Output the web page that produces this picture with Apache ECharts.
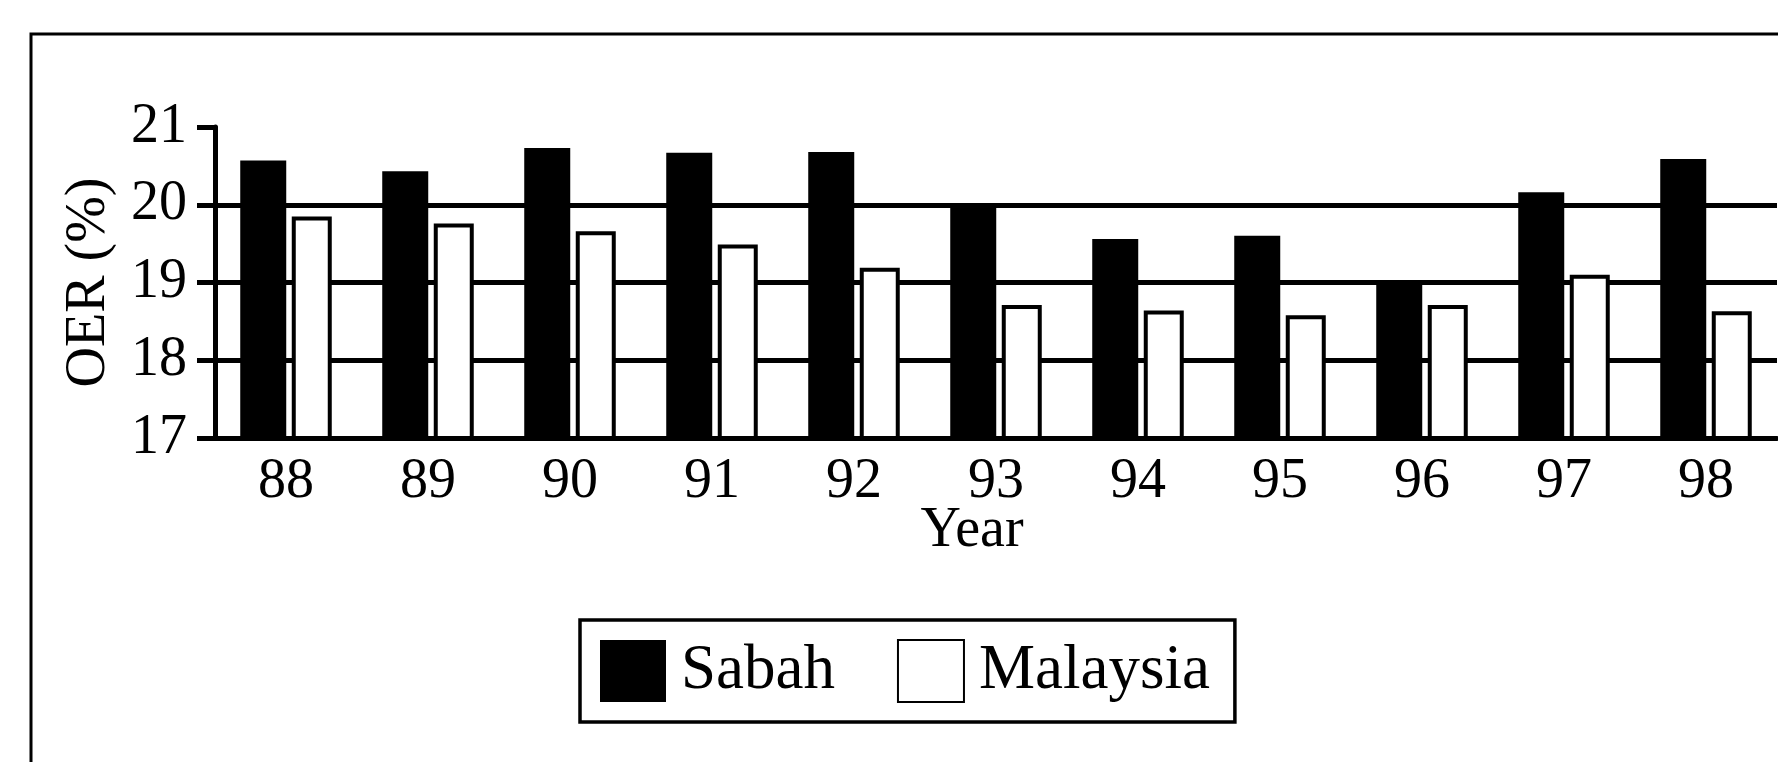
<!DOCTYPE html>
<html>
<head>
<meta charset="utf-8">
<script src="https://cdn.jsdelivr.net/npm/echarts@6/dist/echarts.min.js"></script>
<style>
html,body{margin:0;padding:0;background:#fff;}
#c{width:1778px;height:762px;}
</style>
</head>
<body>
<div id="c"></div>
<script>
const years = ['88','89','90','91','92','93','94','95','96','97','98'];
const sabah = [20.57, 20.43, 20.73, 20.67, 20.68, 20.00, 19.56, 19.60, 18.97, 20.16, 20.59];
const malaysia = [19.85, 19.76, 19.66, 19.49, 19.19, 18.71, 18.64, 18.58, 18.71, 19.10, 18.63];
const yTicks = { min: 17, max: 21, step: 1 };
const seriesNames = ['Sabah', 'Malaysia'];

const FONT = 'Liberation Serif';
const chart = echarts.init(document.getElementById('c'));
chart.setOption({
  animation: false,
  backgroundColor: '#fff',
  graphic: [{
    type: 'rect', z: -10, silent: true,
    shape: { x: 31, y: 34, width: 1800, height: 800 },
    style: { fill: null, stroke: '#000', lineWidth: 3 }
  }],
  grid: { left: 215, right: 1, top: 127, bottom: 324 },
  legend: {
    data: seriesNames,
    left: 580, top: 620,
    padding: [19, 25, 19, 20],
    borderColor: '#000', borderWidth: 3.5, borderRadius: 0,
    itemWidth: 66, itemHeight: 62, itemGap: 62,
    icon: 'rect',
    textStyle: { fontFamily: FONT, fontSize: 63, color: '#000', padding: [0, 0, 0, 10] },
    selectedMode: false
  },
  xAxis: {
    type: 'category',
    data: years,
    name: 'Year',
    nameLocation: 'middle',
    nameGap: 65,
    nameMoveOverlap: false,
    nameTextStyle: { fontFamily: FONT, fontSize: 56, color: '#000', padding: [0, 48, 0, 0] },
    axisLine: { lineStyle: { color: '#000', width: 5 } },
    axisTick: { show: false },
    axisLabel: { interval: 0, margin: 16, fontFamily: FONT, fontSize: 56, color: '#000' },
    splitLine: { show: false }
  },
  yAxis: {
    type: 'value',
    min: yTicks.min, max: yTicks.max, interval: yTicks.step,
    name: 'OER (%)',
    nameLocation: 'middle',
    nameGap: 98,
    nameRotate: 90,
    nameMoveOverlap: false,
    nameTextStyle: { fontFamily: FONT, fontSize: 56, color: '#000' },
    axisLine: { show: true, lineStyle: { color: '#000', width: 5 } },
    axisTick: { show: true, inside: false, length: 18, lineStyle: { color: '#000', width: 5 } },
    axisLabel: { margin: 28, fontFamily: FONT, fontSize: 56, color: '#000' },
    splitLine: { show: true, showMinLine: false, showMaxLine: false, lineStyle: { color: '#000', width: 5 } }
  },
  series: [
    {
      name: seriesNames[0], type: 'bar', data: sabah,
      barWidth: 46, barGap: '12%',
      itemStyle: { color: '#000' },
      emphasis: { disabled: true }
    },
    {
      name: seriesNames[1], type: 'bar', data: malaysia,
      barWidth: 40, barGap: '12%',
      itemStyle: { color: '#fff', borderColor: '#000', borderWidth: 4 },
      emphasis: { disabled: true }
    }
  ]
});
</script>
</body>
</html>
